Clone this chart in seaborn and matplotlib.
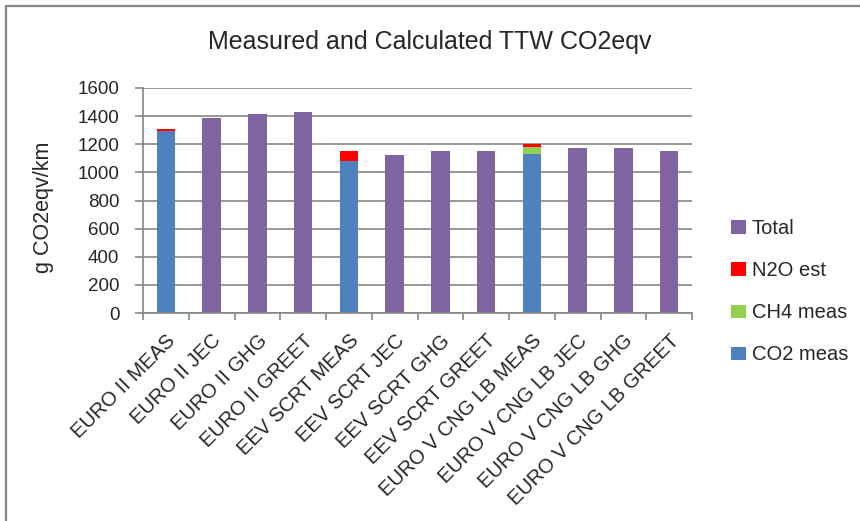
import matplotlib
matplotlib.use("Agg")
import matplotlib.pyplot as plt
from matplotlib.lines import Line2D
from matplotlib.ticker import FixedLocator
import numpy as np
import seaborn as sns

categories = ["EURO II MEAS", "EURO II JEC", "EURO II GHG", "EURO II GREET",
              "EEV SCRT MEAS", "EEV SCRT JEC", "EEV SCRT GHG", "EEV SCRT GREET",
              "EURO V CNG LB MEAS", "EURO V CNG LB JEC", "EURO V CNG LB GHG",
              "EURO V CNG LB GREET"]
co2_meas = [1295, 0, 0, 0, 1082, 0, 0, 0, 1132, 0, 0, 0]
ch4_meas = [2, 0, 0, 0, 1, 0, 0, 0, 50, 0, 0, 0]
n2o_est = [15, 0, 0, 0, 66, 0, 0, 0, 18, 0, 0, 0]
total = [0, 1390, 1418, 1427, 0, 1123, 1150, 1150, 0, 1170, 1172, 1150]

series_names = ["CO2 meas", "CH4 meas", "N2O est", "Total"]
series_values = [co2_meas, ch4_meas, n2o_est, total]
series_colors = ["#4F81BD", "#92D050", "#FF0000", "#8064A2"]

sns.set_style("white")
plt.rcParams["font.family"] = ["Liberation Sans", "DejaVu Sans"]

fig = plt.figure(figsize=(8.6, 5.21), dpi=100)
ax = fig.add_axes([143 / 860, 1 - 313 / 521, 549 / 860, 225 / 521])

grid_c = "#868686"
bottom = np.zeros(len(categories))
for name, vals, col in zip(series_names, series_values, series_colors):
    vals = np.array(vals, dtype=float)
    sns.barplot(x=categories, y=vals, bottom=bottom, color=col, width=0.4,
                saturation=1, linewidth=0, label=name, ax=ax, order=categories,
                legend=False)
    bottom = bottom + vals

ax.set_xlim(-0.5, len(categories) - 0.5)
ax.set_ylim(0, 1600)
ax.set_yticks(np.arange(0, 1601, 200))
ax.yaxis.grid(True, color=grid_c, linewidth=1.2)
ax.set_axisbelow(True)
for s in ["top", "right"]:
    ax.spines[s].set_visible(False)
for s in ["left", "bottom"]:
    ax.spines[s].set_color(grid_c)
    ax.spines[s].set_linewidth(1.2)

ax.tick_params(axis="y", direction="out", length=6, width=1.2, color=grid_c,
               pad=11, labelsize=13.5, left=True)
ax.set_xticks(range(len(categories)))
ax.set_xticklabels(categories, rotation=45, ha="right", rotation_mode="anchor",
                   fontsize=14.5)
ax.tick_params(axis="x", which="major", length=0, pad=13)
ax.xaxis.set_minor_locator(FixedLocator(np.arange(-0.5, len(categories), 1.0)))
ax.tick_params(axis="x", which="minor", direction="out", length=5, width=1.2,
               color=grid_c, bottom=True)

ax.set_xlabel("")
ax.set_ylabel("g CO2eqv/km", fontsize=15.5)
ax.yaxis.set_label_coords(-0.162, 0.47)

fig.text(0.5, 1 - 42 / 521, "Measured and Calculated TTW CO2eqv",
         ha="center", va="center", fontsize=18)

handles, labels = ax.get_legend_handles_labels()
order = [labels.index(n) for n in reversed(series_names)]
fig.legend([handles[i] for i in order], [labels[i] for i in order],
           loc="center left", bbox_to_anchor=(0.838, 0.44), frameon=False,
           fontsize=14.5, handlelength=0.75, handleheight=0.65,
           handletextpad=0.3, labelspacing=1.15, borderpad=0)

fig.add_artist(Line2D([5.5 / 860, 1], [1 - 5.5 / 521, 1 - 5.5 / 521],
                      transform=fig.transFigure, color=grid_c, linewidth=1.6))
fig.add_artist(Line2D([5.5 / 860, 5.5 / 860], [0, 1 - 5.5 / 521],
                      transform=fig.transFigure, color=grid_c, linewidth=1.6))

fig.savefig("out.png", dpi=100, facecolor="white")
